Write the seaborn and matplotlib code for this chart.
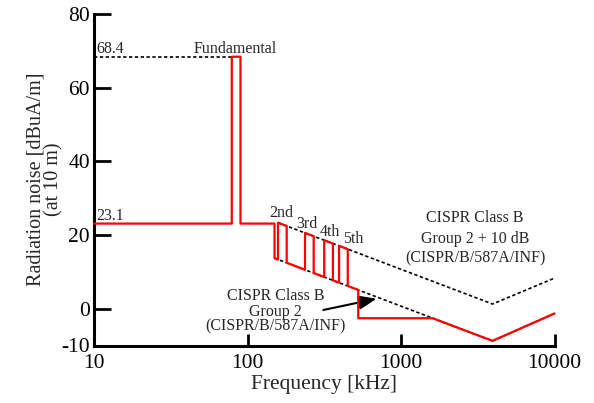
import matplotlib
matplotlib.use("Agg")
import matplotlib.pyplot as plt
import seaborn as sns
import pandas as pd

# ---- data ----
red_freq = [10, 79, 79, 90, 90, 150, 150, 158, 158, 180, 180, 237, 237, 270, 270,
            316, 316, 360, 360, 395, 395, 450, 450, 526.5, 526.5, 1606.5, 3950, 10000]
red_level = [23.1, 23.1, 68.4, 68.4, 23.1, 23.1, 13.7, 13.34, 23.34, 22.45, 12.45, 10.56, 20.56, 19.67, 9.67,
             8.59, 18.59, 17.69, 7.69, 7.06, 17.06, 16.16, 6.16, 5.08, -2.6, -2.6, -8.74, -1.3]

lower_freq = [150, 3950, 10000]
lower_level = [13.7, -8.74, -1.3]
upper_freq = [158, 3950, 10000]
upper_level = [23.34, 1.26, 8.3]
fund_freq = [10, 79]
fund_level = [68.4, 68.4]

x_ticks = [10, 100, 1000, 10000]
x_ticklabels = ["10", "100", "1000", "10000"]
y_ticks = [-10, 0, 20, 40, 60, 80]
y_ticklabels = ["-10", "0", "20", "40", "60", "80"]

harm_labels = ["2nd", "3rd", "4th", "5th"]
harm_x = [138, 209, 294, 417]
harm_y = [24.9, 22.0, 19.8, 17.7]

upper_text = ["CISPR Class B", "Group 2 + 10 dB", "(CISPR/B/587A/INF)"]
upper_text_x = 3034
upper_text_y = [23.4, 17.9, 12.5]
lower_text = ["CISPR Class B", "Group 2", "(CISPR/B/587A/INF)"]
lower_text_x = 153
lower_text_y = [2.35, -2.0, -5.8]

# ---- style ----
sns.set_style("ticks")
plt.rcParams["font.family"] = ["Liberation Serif", "DejaVu Serif"]

fig = plt.figure(figsize=(5.94, 4.03), dpi=100)
ax = fig.add_axes([94 / 594, 1 - 345.5 / 403, (554.5 - 94) / 594, (345.5 - 14) / 403])

dash = (0, (2, 1.5))
sns.lineplot(x=lower_freq, y=lower_level, ax=ax, color="black", lw=1.2,
             sort=False, estimator=None)
ax.lines[-1].set_linestyle(dash)
sns.lineplot(x=upper_freq, y=upper_level, ax=ax, color="black", lw=1.2,
             sort=False, estimator=None)
ax.lines[-1].set_linestyle(dash)
sns.lineplot(x=fund_freq, y=fund_level, ax=ax, color="black", lw=1.2,
             sort=False, estimator=None)
ax.lines[-1].set_linestyle(dash)

red_df = pd.DataFrame({"freq": red_freq, "level": red_level})
sns.lineplot(data=red_df, x="freq", y="level", ax=ax, color="#ff0000", lw=1.6,
             sort=False, estimator=None, zorder=5)

for ln in ax.lines:
    ln.set_clip_on(False)

ax.set_xscale("log")
ax.set_xlim(10, 10000)
ax.set_ylim(-10, 80)
ax.set_xticks(x_ticks)
ax.set_xticklabels(x_ticklabels)
ax.set_yticks(y_ticks)
ax.set_yticklabels(y_ticklabels)
ax.xaxis.set_minor_locator(matplotlib.ticker.NullLocator())

for s in ["top", "right"]:
    ax.spines[s].set_visible(False)
for s in ["left", "bottom"]:
    ax.spines[s].set_linewidth(2.2)
    ax.spines[s].set_color("black")
ax.tick_params(axis="y", direction="in", length=12.5, width=2, labelsize=15.5, pad=3, colors="black")
ax.tick_params(axis="x", direction="in", length=8.5, width=2, labelsize=15.5, pad=6, colors="black")

ax.set_xlabel("Frequency [kHz]", fontsize=15.5)
ax.xaxis.label.set_va("center")
ax.xaxis.set_label_coords(0.5, (345.5 - 385) / 331.5)
ax.set_ylabel("Radiation noise [dBuA/m]\n(at 10 m)", fontsize=14.5, linespacing=0.95)
ax.yaxis.label.set_va("center")
ax.yaxis.set_label_coords((45 - 94) / 460.5, 0.5)

fs = 11.5
ax.text(10.4, 69.4, "68.4", fontsize=fs, ha="left", va="baseline")
ax.text(83.5, 69.4, "Fundamental", fontsize=fs, ha="center", va="baseline")
ax.text(10.4, 24.1, "23.1", fontsize=fs, ha="left", va="baseline")
for lab, hx, hy in zip(harm_labels, harm_x, harm_y):
    ax.text(hx, hy, lab, fontsize=fs, ha="left", va="baseline")
for line, ty in zip(upper_text, upper_text_y):
    ax.text(upper_text_x, ty, line, fontsize=fs, ha="center", va="baseline")
for line, ty in zip(lower_text, lower_text_y):
    ax.text(lower_text_x, ty, line, fontsize=fs, ha="center", va="baseline")

ax.annotate("", xy=(694, 2.7), xytext=(312, -0.36),
            arrowprops=dict(arrowstyle="-|>,head_length=0.9,head_width=0.35",
                            color="black", lw=1.5, mutation_scale=12,
                            shrinkA=0, shrinkB=0))

fig.savefig("out.png", dpi=100)
